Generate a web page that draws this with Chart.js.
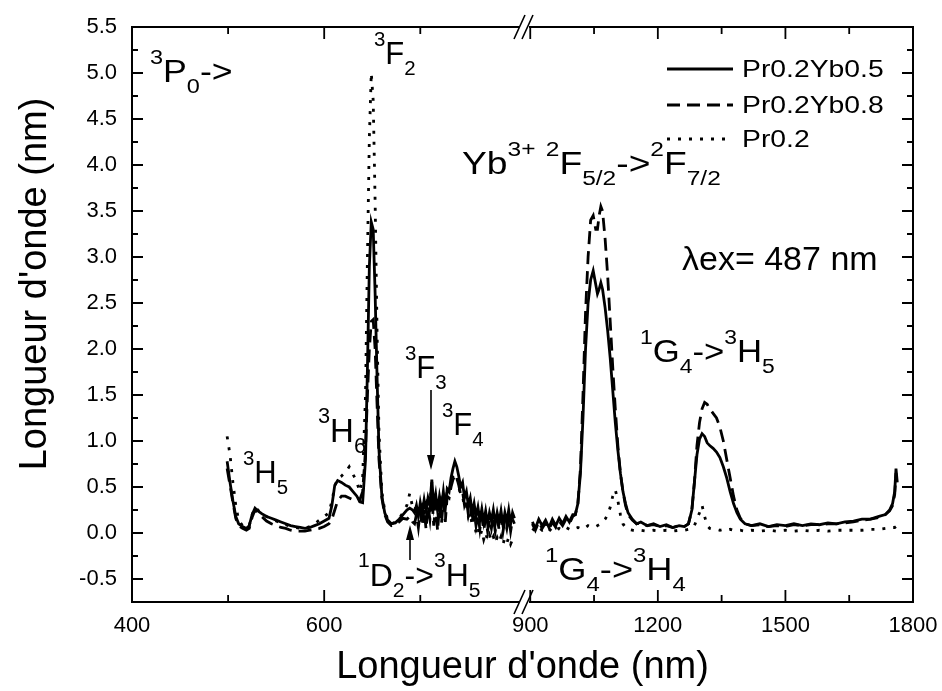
<!DOCTYPE html>
<html>
<head>
<meta charset="utf-8">
<script src="https://cdn.jsdelivr.net/npm/chart.js@4.4.1/dist/chart.umd.min.js"></script>
<style>
html, body { margin: 0; padding: 0; background: #fff; }
</style>
</head>
<body>
<canvas id="chart" width="942" height="691"></canvas>
<script>
const FONT = "'Liberation Sans', Arial, sans-serif";

// series names
const seriesNames = ["Pr0.2Yb0.5", "Pr0.2Yb0.8", "Pr0.2"];

// left part of the broken axis (400 - 810 nm)
const leftNm = [499, 502, 505, 508, 511, 515, 519, 522, 525, 528, 531, 535, 540, 545, 550, 555, 560, 565, 570, 575,
 580, 585, 590, 595, 600, 605, 608, 611, 614, 618, 622, 626, 630, 634, 637, 640, 643, 645, 647, 649,
 651, 653, 655, 657, 660, 663, 666, 670, 674, 678, 682, 686, 689, 692,
 694, 696, 698, 700, 702, 704, 706, 708, 710, 712, 714, 716, 718, 720, 722, 724, 726, 728, 730, 732,
 734, 736, 738, 740, 742, 744, 746, 748, 750, 752, 754, 756, 758, 760, 762, 764, 766, 768, 770, 772,
 774, 776, 778, 780, 782, 784, 786, 788, 790, 792, 794, 796, 798];
const leftYb05 = [0.78, 0.55, 0.35, 0.18, 0.10, 0.07, 0.05, 0.08, 0.20, 0.27, 0.24, 0.21, 0.18, 0.16, 0.14, 0.12, 0.10, 0.08, 0.07, 0.06,
 0.05, 0.06, 0.08, 0.10, 0.13, 0.16, 0.30, 0.52, 0.57, 0.55, 0.52, 0.50, 0.45, 0.40, 0.34, 0.33, 0.80, 1.80, 2.90, 3.38,
 3.30, 2.60, 1.70, 0.90, 0.40, 0.22, 0.14, 0.10, 0.11, 0.15, 0.20, 0.25, 0.27, 0.25,
 0.22, 0.30, 0.18, 0.33, 0.22, 0.36, 0.24, 0.38, 0.30, 0.58, 0.30, 0.42, 0.24, 0.40, 0.28, 0.45, 0.26, 0.48, 0.45, 0.60,
 0.70, 0.78, 0.72, 0.62, 0.50, 0.55, 0.38, 0.45, 0.30, 0.38, 0.22, 0.32, 0.18, 0.28, 0.14, 0.26, 0.12, 0.24, 0.10, 0.22,
 0.13, 0.25, 0.10, 0.22, 0.12, 0.24, 0.09, 0.22, 0.12, 0.25, 0.10, 0.22, 0.16];
const leftYb08 = [0.70, 0.52, 0.33, 0.16, 0.08, 0.05, 0.03, 0.05, 0.17, 0.25, 0.22, 0.18, 0.13, 0.10, 0.08, 0.06, 0.05, 0.03, 0.02, 0.02,
 0.02, 0.03, 0.04, 0.05, 0.07, 0.10, 0.15, 0.25, 0.35, 0.40, 0.40, 0.38, 0.36, 0.35, 0.36, 0.45, 0.90, 1.50, 2.00, 2.30,
 2.32, 2.00, 1.40, 0.80, 0.38, 0.20, 0.12, 0.08, 0.09, 0.12, 0.16, 0.15, 0.18, 0.12,
 0.10, 0.20, 0.06, 0.24, 0.08, 0.26, 0.04, 0.30, 0.15, 0.40, 0.08, 0.32, 0.02, 0.30, 0.10, 0.35, 0.12, 0.40, 0.38, 0.50,
 0.58, 0.62, 0.60, 0.52, 0.42, 0.45, 0.30, 0.36, 0.20, 0.30, 0.12, 0.24, 0.08, 0.20, 0.04, 0.18, 0.03, 0.16, 0.02, 0.15,
 0.05, 0.18, 0.02, 0.15, 0.04, 0.17, 0.01, 0.14, 0.05, 0.18, 0.02, 0.15, 0.10];
const leftPr = [1.05, 0.85, 0.55, 0.30, 0.14, 0.08, 0.06, 0.08, 0.20, 0.28, 0.25, 0.21, 0.18, 0.15, 0.13, 0.11, 0.09, 0.07, 0.06, 0.05,
 0.05, 0.07, 0.10, 0.14, 0.18, 0.22, 0.35, 0.50, 0.60, 0.62, 0.66, 0.72, 0.64, 0.55, 0.45, 0.60, 1.50, 3.00, 4.30, 5.00,
 4.70, 3.60, 2.20, 1.10, 0.45, 0.24, 0.15, 0.10, 0.12, 0.16, 0.22, 0.30, 0.43, 0.28,
 0.24, 0.32, 0.20, 0.34, 0.25, 0.38, 0.28, 0.40, 0.32, 0.55, 0.30, 0.42, 0.26, 0.38, 0.30, 0.44, 0.28, 0.46, 0.44, 0.56,
 0.62, 0.65, 0.60, 0.50, 0.42, 0.40, 0.28, 0.30, 0.18, 0.22, 0.08, 0.14, 0.00, 0.06, -0.04, 0.03, -0.07, 0.00, -0.08, -0.02,
 -0.09, -0.04, -0.11, -0.05, -0.10, -0.04, -0.12, -0.06, -0.11, -0.05, -0.12, -0.07, -0.09];

// right part of the broken axis (890 - 1800 nm)
const rightNm = [905, 912, 920, 928, 936, 944, 952, 960, 968, 976, 984, 992, 1000, 1006,
 1012, 1018, 1024, 1030, 1036, 1042, 1048, 1054, 1058, 1062, 1066, 1070, 1076, 1082, 1088, 1094,
 1100, 1106, 1112, 1118, 1124, 1130, 1140, 1150, 1160, 1175, 1190, 1205, 1220, 1235, 1250, 1262,
 1272, 1280, 1286, 1292, 1298, 1304, 1310, 1316, 1322, 1330, 1338, 1346, 1354, 1362, 1370, 1378,
 1386, 1394, 1405, 1420, 1440, 1460, 1480, 1500, 1520, 1540, 1560, 1580, 1600, 1620, 1640, 1660,
 1680, 1700, 1720, 1735, 1745, 1752, 1757, 1760, 1763];
const rightYb05 = [0.12, 0.05, 0.15, 0.08, 0.14, 0.06, 0.15, 0.08, 0.16, 0.10, 0.18, 0.12, 0.20, 0.20,
 0.32, 0.65, 1.25, 2.00, 2.50, 2.75, 2.85, 2.70, 2.60, 2.65, 2.72, 2.65, 2.45, 2.20, 1.90, 1.55,
 1.20, 0.90, 0.65, 0.45, 0.32, 0.22, 0.15, 0.10, 0.12, 0.08, 0.10, 0.07, 0.09, 0.06, 0.08, 0.07,
 0.10, 0.25, 0.55, 0.85, 1.02, 1.08, 1.05, 0.98, 0.95, 0.92, 0.88, 0.82, 0.72, 0.60, 0.45, 0.32,
 0.22, 0.15, 0.10, 0.08, 0.10, 0.07, 0.09, 0.08, 0.10, 0.08, 0.10, 0.09, 0.11, 0.10, 0.12, 0.13,
 0.15, 0.15, 0.18, 0.20, 0.25, 0.32, 0.45, 0.70, 0.55];
const rightYb08 = [0.10, 0.03, 0.12, 0.05, 0.11, 0.04, 0.12, 0.06, 0.13, 0.08, 0.15, 0.10, 0.18, 0.20,
 0.32, 0.70, 1.50, 2.40, 3.00, 3.40, 3.45, 3.30, 3.30, 3.45, 3.55, 3.50, 3.20, 2.80, 2.30, 1.80,
 1.35, 0.95, 0.65, 0.45, 0.30, 0.20, 0.14, 0.10, 0.11, 0.08, 0.09, 0.07, 0.08, 0.06, 0.08, 0.07,
 0.10, 0.25, 0.55, 0.95, 1.20, 1.35, 1.42, 1.40, 1.35, 1.30, 1.25, 1.15, 1.00, 0.80, 0.60, 0.40,
 0.25, 0.16, 0.10, 0.08, 0.09, 0.07, 0.08, 0.07, 0.09, 0.08, 0.09, 0.09, 0.10, 0.10, 0.11, 0.12,
 0.14, 0.15, 0.17, 0.20, 0.24, 0.30, 0.42, 0.65, 0.50];
const rightPr = [0.05, 0.02, 0.06, 0.03, 0.05, 0.02, 0.06, 0.03, 0.05, 0.03, 0.06, 0.04, 0.06, 0.05,
 0.06, 0.05, 0.07, 0.06, 0.08, 0.07, 0.08, 0.07, 0.08, 0.09, 0.10, 0.12, 0.15, 0.20, 0.28, 0.40,
 0.47, 0.35, 0.20, 0.10, 0.06, 0.04, 0.03, 0.02, 0.03, 0.02, 0.03, 0.02, 0.03, 0.02, 0.03, 0.03,
 0.04, 0.05, 0.08, 0.15, 0.22, 0.30, 0.18, 0.08, 0.05, 0.04, 0.04, 0.03, 0.04, 0.03, 0.04, 0.03,
 0.03, 0.03, 0.02, 0.03, 0.02, 0.03, 0.02, 0.03, 0.02, 0.03, 0.02, 0.03, 0.02, 0.03, 0.03, 0.03,
 0.03, 0.04, 0.04, 0.05, 0.05, 0.06, 0.06, 0.07, 0.06];

// tick values
const yMajor = [-0.5, 0, 0.5, 1, 1.5, 2, 2.5, 3, 3.5, 4, 4.5, 5, 5.5];
const yMinor = [-0.75, -0.25, 0.25, 0.75, 1.25, 1.75, 2.25, 2.75, 3.25, 3.75, 4.25, 4.75, 5.25];
const xLeftMajor = [400, 600];
const xLeftMinor = [500, 700];
const xRightMajor = [900, 1200, 1500, 1800];
const xRightMinor = [1050, 1350, 1650];

const lineStyles = [
 { borderDash: [], borderWidth: 2.8 },
 { borderDash: [13, 7], borderWidth: 2.8 },
 { borderDash: [3, 8], borderWidth: 2.8 }
];

function pts(xs, ys) {
 return xs.map((x, i) => ({ x, y: ys[i] }));
}

const leftSeries = [leftYb05, leftYb08, leftPr];
const rightSeries = [rightYb05, rightYb08, rightPr];
const datasets = [];
seriesNames.forEach((name, i) => {
 datasets.push({ label: name, data: pts(leftNm, leftSeries[i]), xAxisID: "x", borderColor: "#000", ...lineStyles[i] });
 datasets.push({ label: name, data: pts(rightNm, rightSeries[i]), xAxisID: "x2", borderColor: "#000", ...lineStyles[i] });
});

function drawRich(ctx, x, y, parts, size, sx) {
 ctx.save();
 ctx.translate(x, y);
 ctx.scale(sx, 1);
 ctx.fillStyle = "#000";
 ctx.textBaseline = "alphabetic";
 ctx.textAlign = "left";
 let cx = 0;
 for (const [t, kind] of parts) {
 const s = kind ? size * 0.66 : size;
 const dy = kind === "sup" ? -size * 0.58 : kind === "sub" ? size * 0.34 : 0;
 ctx.font = s + "px " + FONT;
 ctx.fillText(t, cx, dy);
 cx += ctx.measureText(t).width;
 }
 ctx.restore();
}

// text notes on the plot
const notes = [
 { x: 150, y: 82, size: 31, sx: 1.15, parts: [["3", "sup"], ["P"], ["0", "sub"], ["->"]] },
 { x: 374, y: 64, size: 31, sx: 1, parts: [["3", "sup"], ["F"], ["2", "sub"]] },
 { x: 462, y: 174, size: 31, sx: 1.2, parts: [["Yb"], ["3+", "sup"], [" "], ["2", "sup"], ["F"], ["5/2", "sub"], ["->"], ["2", "sup"], ["F"], ["7/2", "sub"]] },
 { x: 682, y: 270, size: 34, sx: 1, parts: [["λex= 487 nm"]] },
 { x: 640, y: 362, size: 31, sx: 1.12, parts: [["1", "sup"], ["G"], ["4", "sub"], ["->"], ["3", "sup"], ["H"], ["5", "sub"]] },
 { x: 243, y: 483, size: 31, sx: 1, parts: [["3", "sup"], ["H"], ["5", "sub"]] },
 { x: 318, y: 442, size: 33, sx: 1, parts: [["3", "sup"], ["H"], ["6", "sub"]] },
 { x: 405, y: 378, size: 31, sx: 1, parts: [["3", "sup"], ["F"], ["3", "sub"]] },
 { x: 442, y: 435, size: 31, sx: 1, parts: [["3", "sup"], ["F"], ["4", "sub"]] },
 { x: 358, y: 586, size: 32, sx: 1, parts: [["1", "sup"], ["D"], ["2", "sub"], ["->"], ["3", "sup"], ["H"], ["5", "sub"]] },
 { x: 545, y: 580, size: 31, sx: 1.17, parts: [["1", "sup"], ["G"], ["4", "sub"], ["->"], ["3", "sup"], ["H"], ["4", "sub"]] }
];

const framePlugin = {
 id: "frame",
 afterDraw(chart) {
 const { ctx, chartArea: a, scales } = chart;
 const sx = scales.x, sx2 = scales.x2, sy = scales.y;
 const brk = sx.right;
 ctx.save();
 ctx.strokeStyle = "#000";
 ctx.lineWidth = 2;
 ctx.lineCap = "butt";
 ctx.beginPath();
 ctx.moveTo(a.left, a.top); ctx.lineTo(a.left, a.bottom);
 ctx.moveTo(a.right, a.top); ctx.lineTo(a.right, a.bottom);
 ctx.moveTo(a.left - 1, a.top); ctx.lineTo(brk - 6, a.top);
 ctx.moveTo(brk + 3, a.top); ctx.lineTo(a.right + 1, a.top);
 ctx.moveTo(a.left - 1, a.bottom); ctx.lineTo(brk - 6, a.bottom);
 ctx.moveTo(brk + 3, a.bottom); ctx.lineTo(a.right + 1, a.bottom);
 ctx.stroke();

 ctx.lineWidth = 1.8;
 ctx.beginPath();
 const tickX = (scale, vals, len) => {
 vals.forEach(v => {
 const p = scale.getPixelForValue(v);
 ctx.moveTo(p, a.bottom); ctx.lineTo(p, a.bottom - len);
 ctx.moveTo(p, a.top); ctx.lineTo(p, a.top + len);
 });
 };
 tickX(sx, xLeftMajor, 12);
 tickX(sx, xLeftMinor, 7);
 tickX(sx2, xRightMajor, 12);
 tickX(sx2, xRightMinor, 7);
 const tickY = (vals, len) => {
 vals.forEach(v => {
 const p = sy.getPixelForValue(v);
 ctx.moveTo(a.left, p); ctx.lineTo(a.left + len, p);
 ctx.moveTo(a.right, p); ctx.lineTo(a.right - len, p);
 });
 };
 tickY(yMajor, 11);
 tickY(yMinor, 6);
 ctx.stroke();

 // axis break marks
 ctx.lineWidth = 1.6;
 ctx.beginPath();
 [a.top, a.bottom].forEach(yy => {
 ctx.moveTo(brk - 12, yy + 12); ctx.lineTo(brk - 1, yy - 12);
 ctx.moveTo(brk - 4, yy + 12); ctx.lineTo(brk + 7, yy - 12);
 });
 ctx.stroke();

 // axis titles
 ctx.fillStyle = "#000";
 ctx.font = "38px " + FONT;
 ctx.textAlign = "center";
 ctx.textBaseline = "alphabetic";
 ctx.fillText("Longueur d'onde (nm)", (a.left + a.right) / 2, 678);
 ctx.translate(46, 284);
 ctx.rotate(-Math.PI / 2);
 ctx.fillText("Longueur d'onde (nm)", 0, 0);
 ctx.restore();
 }
};

const notesPlugin = {
 id: "notes",
 afterDraw(chart) {
 const { ctx } = chart;
 notes.forEach(n => drawRich(ctx, n.x, n.y, n.parts, n.size, n.sx));

 // arrows
 ctx.save();
 ctx.strokeStyle = "#000";
 ctx.fillStyle = "#000";
 ctx.lineWidth = 1.6;
 const arrow = (x, y0, y1) => {
 const dir = Math.sign(y1 - y0);
 ctx.beginPath();
 ctx.moveTo(x, y0); ctx.lineTo(x, y1 - dir * 12);
 ctx.stroke();
 ctx.beginPath();
 ctx.moveTo(x, y1); ctx.lineTo(x - 4, y1 - dir * 15); ctx.lineTo(x + 4, y1 - dir * 15);
 ctx.closePath();
 ctx.fill();
 };
 arrow(431, 390, 470);
 arrow(410, 560, 525);

 // legend
 const lx0 = 667, lx1 = 733, rows = [69, 105, 139];
 seriesNames.forEach((name, i) => {
 const st = lineStyles[i];
 ctx.lineWidth = st.borderWidth;
 ctx.setLineDash(st.borderDash);
 ctx.beginPath();
 ctx.moveTo(lx0, rows[i]); ctx.lineTo(lx1, rows[i]);
 ctx.stroke();
 ctx.setLineDash([]);
 });
 ctx.restore();
 seriesNames.forEach((name, i) => drawRich(ctx, 742, rows[i] + 8, [[name]], 24, 1.18));
 }
};

const fixX = s => { s.height = 89; s.paddingLeft = 0; s.paddingRight = 0; };

const chart = new Chart(document.getElementById("chart").getContext("2d"), {
 type: "line",
 data: { datasets },
 options: {
 responsive: false,
 animation: false,
 layout: { padding: { top: 27, right: 29, left: 0, bottom: 0 } },
 plugins: { legend: { display: false }, tooltip: { enabled: false } },
 elements: { point: { radius: 0 }, line: { tension: 0 } },
 scales: {
 x: {
 type: "linear", position: "bottom", stack: "wl", stackWeight: 394,
 min: 400, max: 810,
 grid: { display: false, drawTicks: false }, border: { display: false },
 afterBuildTicks: s => { s.ticks = xLeftMajor.map(v => ({ value: v })); },
 afterFit: fixX,
 ticks: { autoSkip: false, maxRotation: 0, padding: 11, color: "#000", font: { family: FONT, size: 22 }, callback: v => String(v) }
 },
 x2: {
 type: "linear", position: "bottom", stack: "wl", stackWeight: 387,
 min: 890, max: 1800,
 grid: { display: false, drawTicks: false }, border: { display: false },
 afterBuildTicks: s => { s.ticks = xRightMajor.map(v => ({ value: v })); },
 afterFit: fixX,
 ticks: { autoSkip: false, maxRotation: 0, padding: 11, color: "#000", font: { family: FONT, size: 22 }, callback: v => String(v) }
 },
 y: {
 type: "linear", position: "left",
 min: -0.75, max: 5.5,
 grid: { display: false, drawTicks: false }, border: { display: false },
 afterBuildTicks: s => { s.ticks = yMajor.map(v => ({ value: v })); },
 afterFit: s => { s.width = 132; s.paddingTop = 0; s.paddingBottom = 0; },
 ticks: { padding: 15, color: "#000", font: { family: FONT, size: 22 }, callback: v => v.toFixed(1) }
 }
 }
 },
 plugins: [framePlugin, notesPlugin]
});
</script>
</body>
</html>
